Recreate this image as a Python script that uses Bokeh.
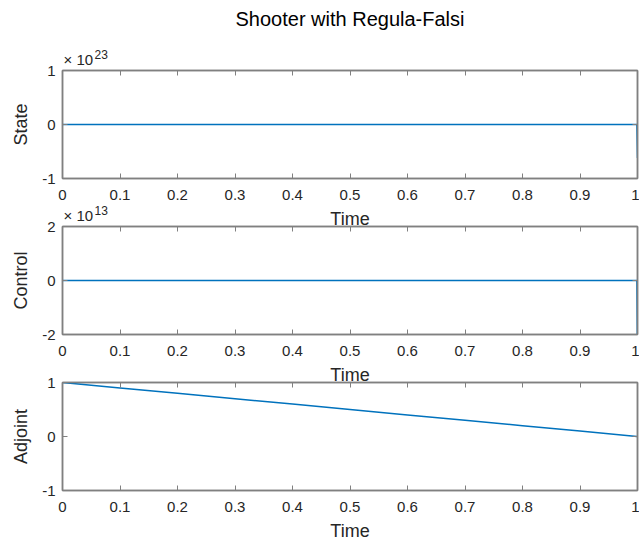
from bokeh.plotting import figure
from bokeh.models import Label, LinearAxis, FixedTicker, Range1d
from bokeh.layouts import column
from bokeh.embed import file_html
from bokeh.resources import INLINE

# Time grid of the shooting solution
t = [0.0, 0.1, 0.2, 0.3, 0.4, 0.5, 0.6, 0.7, 0.8, 0.9, 0.999, 1.0]

# State blows up only at the final instant
state = [0.0, 0.0, 0.0, 0.0, 0.0, 0.0, 0.0, 0.0, 0.0, 0.0, 0.0, -6.2e22]
# Control likewise diverges at t = 1
control = [0.0, 0.0, 0.0, 0.0, 0.0, 0.0, 0.0, 0.0, 0.0, 0.0, 0.0, -2.6e13]
# Adjoint decays from 1 to 0
adjoint = [1.0, 0.9, 0.8, 0.7, 0.6, 0.5, 0.4, 0.3, 0.2, 0.1, 0.001, 0.0]

x_ticks = [0, 0.1, 0.2, 0.3, 0.4, 0.5, 0.6, 0.7, 0.8, 0.9, 1]
x_tick_labels = ["0", "0.1", "0.2", "0.3", "0.4", "0.5", "0.6", "0.7", "0.8", "0.9", "1"]

panels = [
    # (y label, series, scale exponent, y ticks, y tick labels)
    ("State", state, 23, [-1, 0, 1], ["-1", "0", "1"]),
    ("Control", control, 13, [-2, 0, 2], ["-2", "0", "2"]),
    ("Adjoint", adjoint, 0, [-1, 0, 1], ["-1", "0", "1"]),
]

TITLE = "Shooter with Regula-Falsi"
FONT = "Liberation Sans"
TXT = "#262626"
AX = "#808080"
LINE = "#0072BD"

W, H = 639, 544
FRAME_W = 575
FRAME_H = 108
LEFT = 62
RIGHT = 2

tops = [70, 30, 30]
bottoms = [60, 60, 54]
margins = [0, -42, -42]

figs = []
frame_tops = []
y_cursor = 0
for i, (ylab, series, expo, yt, ytl) in enumerate(panels):
    ymin, ymax = yt[0], yt[-1]
    scale = 10.0 ** expo
    p = figure(
        frame_width=FRAME_W, frame_height=FRAME_H,
        min_border_left=LEFT, min_border_right=RIGHT,
        min_border_top=tops[i], min_border_bottom=bottoms[i],
        x_range=Range1d(0, 1), y_range=Range1d(ymin, ymax),
        output_backend="svg", toolbar_location=None,
        x_axis_label="Time", y_axis_label=ylab,
        margin=(margins[i], 0, 0, 0),
    )
    y_cursor += margins[i]
    frame_tops.append(y_cursor + tops[i])
    y_cursor += tops[i] + FRAME_H + bottoms[i]

    p.border_fill_alpha = 0
    p.background_fill_color = "white"
    p.grid.visible = False
    p.outline_line_color = AX
    p.outline_line_width = 1.5

    p.line(t, [v / scale for v in series], line_color=LINE, line_width=1.5)

    # main axes
    for ax, ticks, labels in ((p.xaxis[0], x_ticks, x_tick_labels), (p.yaxis[0], yt, ytl)):
        ax.ticker = FixedTicker(ticks=ticks)
        ax.major_label_overrides = {tk: lb for tk, lb in zip(ticks, labels)}
        ax.minor_tick_line_color = None
        ax.major_tick_in = 5
        ax.major_tick_out = 0
        ax.major_tick_line_color = AX
        ax.axis_line_color = AX
        ax.axis_line_width = 1.5
        ax.major_label_text_font = FONT
        ax.major_label_text_font_size = "15px"
        ax.major_label_text_color = TXT
        ax.axis_label_text_font = FONT
        ax.axis_label_text_font_size = "18px"
        ax.axis_label_text_font_style = "normal"
        ax.axis_label_text_color = TXT
    p.xaxis[0].major_label_standoff = 11
    p.xaxis[0].axis_label_standoff = 6
    p.yaxis[0].major_label_standoff = 7
    p.yaxis[0].axis_label_standoff = 8

    # box ticks on the top and right edges, without labels
    for side, ticks in (("above", x_ticks), ("right", yt)):
        a = LinearAxis(ticker=FixedTicker(ticks=ticks))
        a.major_label_text_color = None
        a.major_label_text_font_size = "1px"
        a.major_label_standoff = 0
        a.minor_tick_line_color = None
        a.major_tick_in = 5
        a.major_tick_out = 0
        a.major_tick_line_color = AX
        a.axis_line_color = AX
        a.axis_line_width = 1.5
        p.add_layout(a, side)

    figs.append(p)

# Transparent overlay for the free-standing texts (figure title and the axis
# scale factors), laid over the three panels. The column lines its frame up
# with the panels' frames, so its x range spans the panel frame in page pixels.
ov = figure(
    width=W, height=H,
    x_range=Range1d(LEFT, LEFT + FRAME_W), y_range=Range1d(H, 0),
    min_border=0, x_axis_location=None, y_axis_location=None,
    output_backend="svg", toolbar_location=None, margin=(-H, 0, 0, 0),
)
ov.grid.visible = False
ov.outline_line_color = None
ov.background_fill_alpha = 0
ov.border_fill_alpha = 0


def add_text(text, x, y, size, color, align="left"):
    ov.add_layout(Label(
        x=x, y=y, text=text, text_font=FONT, text_font_size=size,
        text_color=color, text_align=align, text_baseline="middle"))


add_text(TITLE, LEFT + FRAME_W / 2, 18, "20px", "black", "center")
for i, (ylab, series, expo, yt, ytl) in enumerate(panels):
    if expo:
        add_text("\u00d7 10", LEFT + 1, frame_tops[i] - 11, "15px", TXT)
        add_text(str(expo), LEFT + 32, frame_tops[i] - 16, "12px", TXT)

figs.append(ov)

layout = column(*figs, spacing=0)
open("out.html", "w").write(file_html(layout, INLINE))
